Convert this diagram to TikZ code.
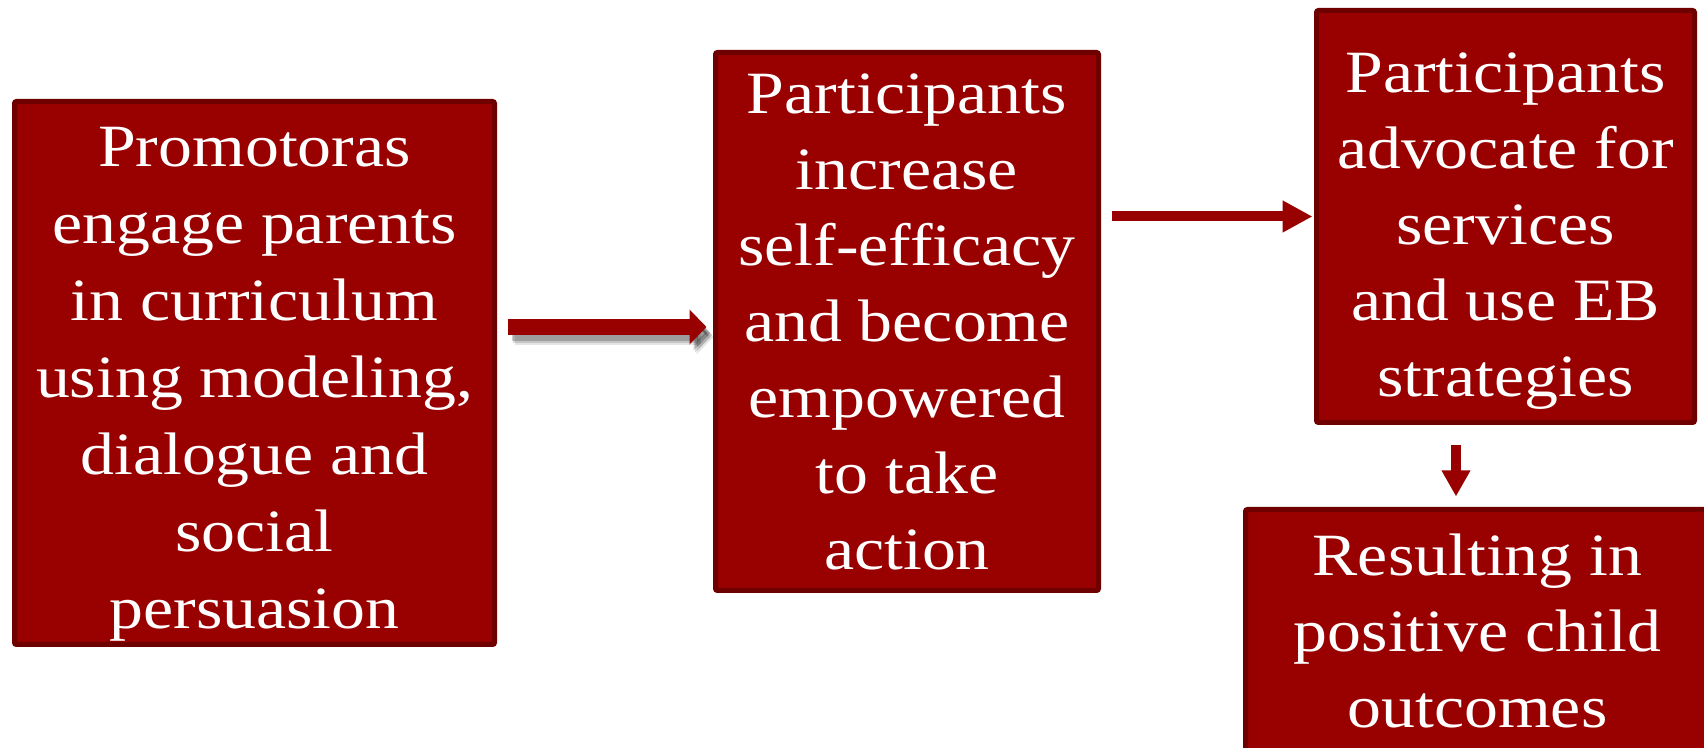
\documentclass[tikz,border=0pt]{standalone}
\usepackage{fontspec}
\setmainfont{Liberation Serif}[FakeStretch=1.13]
\usetikzlibrary{arrows.meta,calc}
\definecolor{boxred}{HTML}{990000}
\definecolor{edgered}{HTML}{6E0000}
\begin{document}
\begin{tikzpicture}[x=0.5pt,y=-0.5pt,
  stage/.style={draw=edgered, line width=2.5pt, fill=boxred, rounded corners=1pt,
    text=white, align=center, inner sep=0pt,
    font=\fontsize{30pt}{38pt}\selectfont},
  flow/.style={draw=boxred, line cap=butt},
  bigtip/.style={-{Triangle[width=17pt,length=8.5pt]}},
  shade/.style={draw=black, line width=8pt, bigtip, line cap=butt}
  ]
  \useasboundingbox (0,0) rectangle (1704,748);
  \clip (0,0) rectangle (1704,748);

  \node[stage, minimum width=240pt, minimum height=271.5pt,
        font=\fontsize{30pt}{38.5pt}\selectfont] (b1) at (254.5,373)
    {\rule{0pt}{31pt}Promotoras\\engage parents\\in curriculum\\using modeling,\\dialogue and\\social\\persuasion};
  \node[stage, minimum width=191.5pt, minimum height=269pt] (b2) at (907,321.5)
    {Participants\\increase\\self-efficacy\\and become\\empowered\\to take\\action};
  \node[stage, minimum width=189pt, minimum height=206pt] (b3) at (1505.5,216.5)
    {\rule{0pt}{34pt}Participants\\advocate for\\services\\and use EB\\strategies};
  \node[stage, minimum width=232pt, minimum height=121.5pt] (b4) at (1477.5,631)
    {Resulting in\\positive child\\outcomes};

  % soft shadow under the first connector
  \coordinate (s1) at ($(b1.east |- b2.west)+(5.25pt,-2.75pt)$);
  \coordinate (e1) at ($(b2.west)+(-3.25pt,-2.75pt)$);
  \foreach \dx/\dy/\op in {3.5/-5/0.10, 2.8/-4/0.14, 2/-3/0.2}
    \draw[shade, opacity=\op] ($(s1)+(\dx pt,\dy pt)$) -- ($(e1)+(\dx pt,\dy pt)$);

  % connectors
  \draw[flow, line width=8pt, bigtip] (s1) -- (e1);
  \draw[flow, line width=5pt, -{Triangle[width=15pt,length=15pt]}]
    ($(b2.east |- b3.west)+(5.25pt,0pt)$) -- ($(b3.west)+(-0.75pt,0pt)$);
  \draw[flow, line width=5pt, -{Triangle[width=13.5pt,length=13pt]}]
    ($(b3.south)+(-24.75pt,-10.25pt)$) -- ($(b3.south |- b4.north)+(-24.75pt,5.25pt)$);
\end{tikzpicture}
\end{document}
